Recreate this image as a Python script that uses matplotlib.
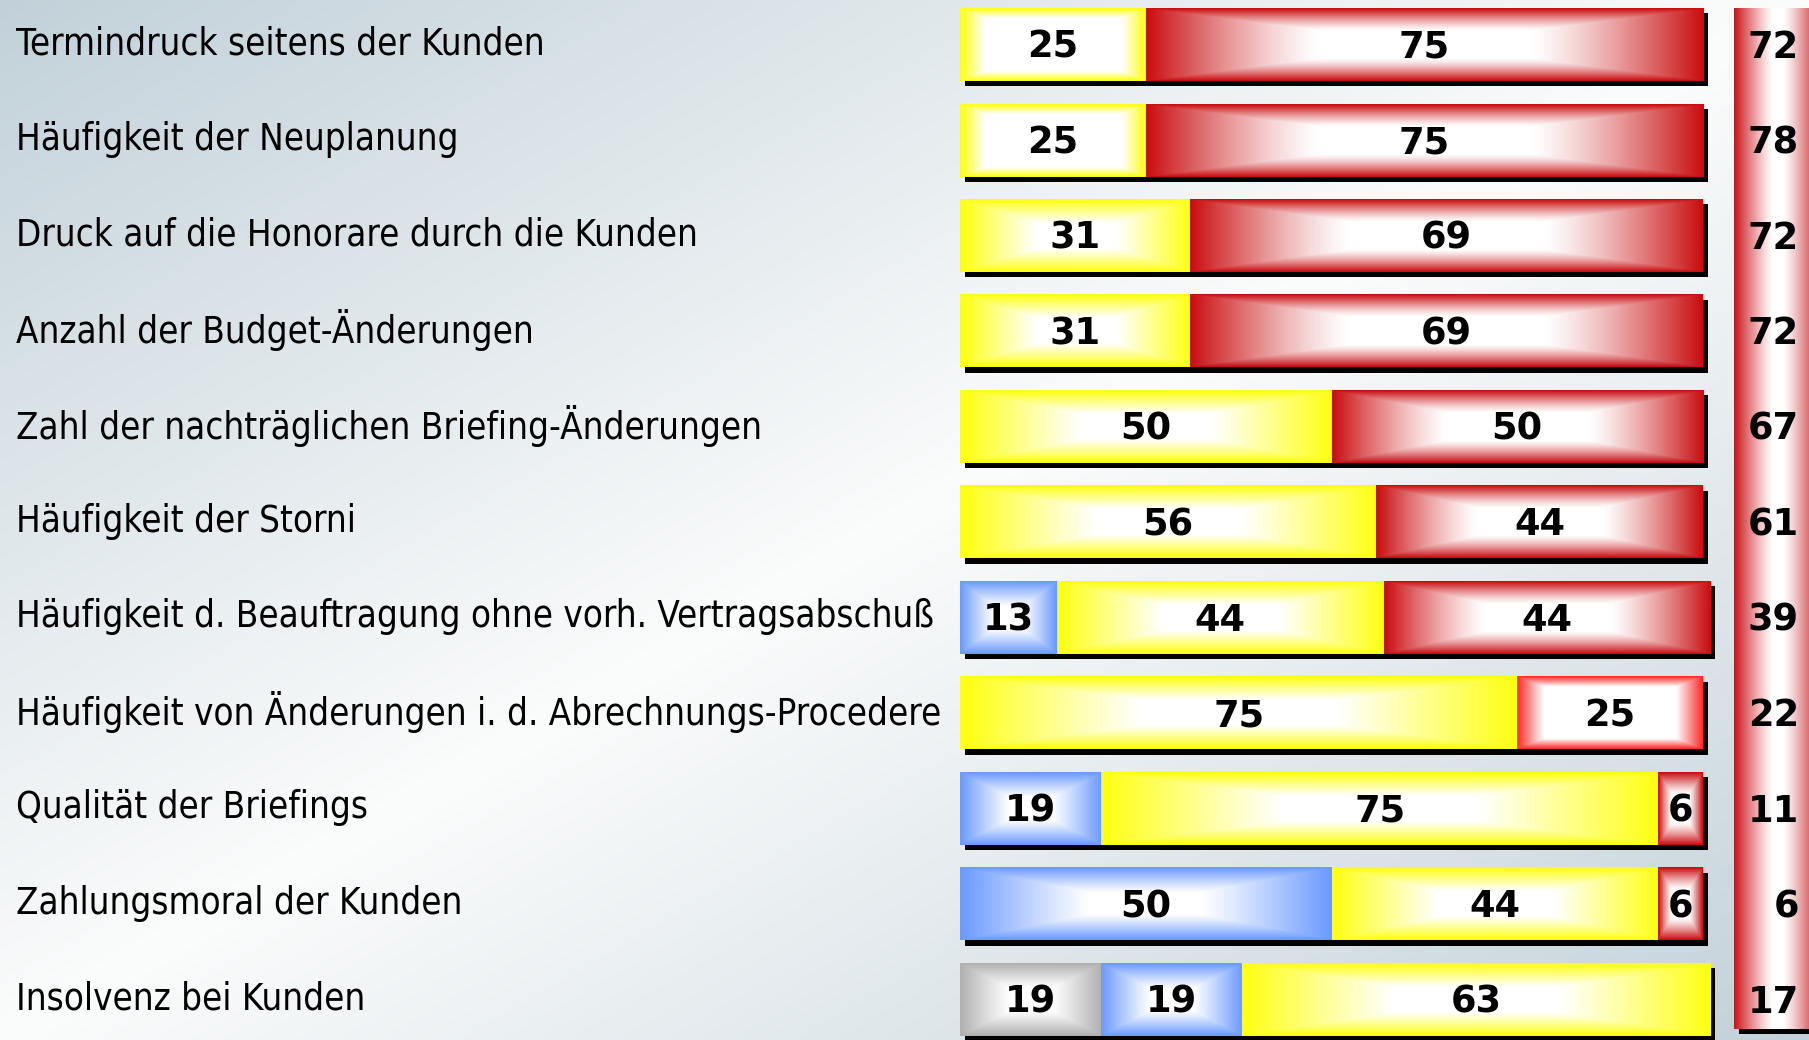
import matplotlib
matplotlib.use("Agg")
import matplotlib.pyplot as plt
import numpy as np
from matplotlib import transforms
from matplotlib.colors import to_rgb
from matplotlib.patches import Rectangle

# ---- data -----------------------------------------------------------------
categories = [
    "Termindruck seitens der Kunden",
    "Häufigkeit der Neuplanung",
    "Druck auf die Honorare durch die Kunden",
    "Anzahl der Budget-Änderungen",
    "Zahl der nachträglichen Briefing-Änderungen",
    "Häufigkeit der Storni",
    "Häufigkeit d. Beauftragung ohne vorh. Vertragsabschuß",
    "Häufigkeit von Änderungen i. d. Abrechnungs-Procedere",
    "Qualität der Briefings",
    "Zahlungsmoral der Kunden",
    "Insolvenz bei Kunden",
]
segment_values = [
    [25, 75],
    [25, 75],
    [31, 69],
    [31, 69],
    [50, 50],
    [56, 44],
    [13, 44, 44],
    [75, 25],
    [19, 75, 6],
    [50, 44, 6],
    [19, 19, 63],
]
segment_styles = [
    ["yellow_soft", "red"],
    ["yellow_soft", "red"],
    ["yellow", "red"],
    ["yellow", "red"],
    ["yellow", "red"],
    ["yellow", "red"],
    ["blue", "yellow", "red"],
    ["yellow", "red_soft"],
    ["blue", "yellow", "red"],
    ["blue", "yellow", "red"],
    ["grey", "blue", "yellow"],
]
side_values = [72, 78, 72, 72, 67, 61, 39, 22, 11, 6, 17]

# base colour, where the white centre ends (0..1 of box radius), ramp exponent
PALETTE = {
    "red": ("#c90d10", 0.38, 1.3),
    "red_soft": ("#ff2b2b", 0.72, 1.0),
    "yellow": ("#ffff10", 0.35, 1.05),
    "yellow_soft": ("#ffff10", 0.74, 1.0),
    "blue": ("#6a99ff", 0.3, 1.1),
    "grey": ("#b0b0b0", 0.3, 1.1),
}

# ---- layout (pixels) ------------------------------------------------------
W, H, DPI = 1809, 1040, 100
PX_PER_UNIT = 7.43
BAR_X0 = 960
ROW0_Y = 44.5
ROW_PITCH = 95.5
BAR_H = 73 / ROW_PITCH
SHADOW_PX = 5
FONT = "DejaVu Sans"


def box_gradient(base, start, gamma, nx, ny):
    u = np.abs(np.linspace(-1, 1, nx))[None, :]
    v = np.abs(np.linspace(-1, 1, ny))[:, None]
    t = np.maximum(u, v)
    f = np.clip((t - start) / (1 - start), 0, 1) ** gamma
    col = np.array(to_rgb(base))
    return 1 + (col - 1) * f[..., None]


def column_gradient(base, nx, ny):
    u = np.abs(np.linspace(-1, 1, nx))[None, :]
    f = np.clip((u - 0.12) / 0.88, 0, 1) ** 1.2
    f = np.repeat(f, ny, axis=0)
    col = np.array(to_rgb(base))
    return 1 + (col - 1) * f[..., None]


fig = plt.figure(figsize=(W / DPI, H / DPI), dpi=DPI)

# background: diagonal blue-grey -> white -> blue-grey
bg = fig.add_axes([0, 0, 1, 1])
yy, xx = np.mgrid[0:1:200j, 0:1:350j]
d = np.abs((xx + yy) / 2 - 0.5) * 2
corner = np.array(to_rgb("#c2d1d9"))
light = np.array(to_rgb("#fbfcfc"))
bg.imshow(light + (corner - light) * d[..., None], extent=[0, 1, 0, 1],
          aspect="auto", interpolation="bilinear")
bg.axis("off")

ax = fig.add_axes([0, 0, 1, 1])
ax.patch.set_alpha(0)
ax.axis("off")

shadow_tr = ax.transData + transforms.ScaledTranslation(
    SHADOW_PX / DPI, -SHADOW_PX / DPI, fig.dpi_scale_trans)

label_x = (16 - BAR_X0) / PX_PER_UNIT
for i, (name, vals, styles) in enumerate(zip(categories, segment_values, segment_styles)):
    top, bottom = i - BAR_H / 2, i + BAR_H / 2
    ax.add_patch(Rectangle((0, top), sum(vals), BAR_H, facecolor="black",
                           edgecolor="none", transform=shadow_tr, zorder=1))
    left = 0
    for val, style in zip(vals, styles):
        base, start, gamma = PALETTE[style]
        nx = max(int(val * PX_PER_UNIT), 8)
        img = box_gradient(base, start, gamma, nx, 73)
        ax.imshow(img, extent=[left, left + val, bottom, top], aspect="auto",
                  interpolation="bilinear", zorder=2)
        ax.text(left + val / 2, i + 0.03, str(val), ha="center", va="center",
                fontsize=26.5, fontweight="bold", family=FONT, zorder=3)
        left += val
    ax.text(label_x, i - 0.01, name, ha="left", va="center", fontsize=26.3,
            family=FONT, fontstretch="condensed", zorder=3)

# right-hand column with totals
col_x0 = (1734 - BAR_X0) / PX_PER_UNIT
col_x1 = (1822 - BAR_X0) / PX_PER_UNIT
col_top = -BAR_H / 2
col_bottom = len(categories) - 1 + BAR_H / 2 - 0.075
ax.add_patch(Rectangle((col_x0, col_top), col_x1 - col_x0, col_bottom - col_top,
                       facecolor="black", edgecolor="none", transform=shadow_tr, zorder=1))
ax.imshow(column_gradient("#c9151a", 88, 20),
          extent=[col_x0, col_x1, col_bottom, col_top], aspect="auto",
          interpolation="bilinear", zorder=2)
num_x = (1799 - BAR_X0) / PX_PER_UNIT
for i, val in enumerate(side_values):
    ax.text(num_x, i + 0.03, str(val), ha="right", va="center", fontsize=26.5,
            fontweight="bold", family=FONT, zorder=3)

ax.set_xlim(-BAR_X0 / PX_PER_UNIT, (W - BAR_X0) / PX_PER_UNIT)
ax.set_ylim((H - ROW0_Y) / ROW_PITCH, -ROW0_Y / ROW_PITCH)

fig.savefig("out.png", dpi=DPI)
